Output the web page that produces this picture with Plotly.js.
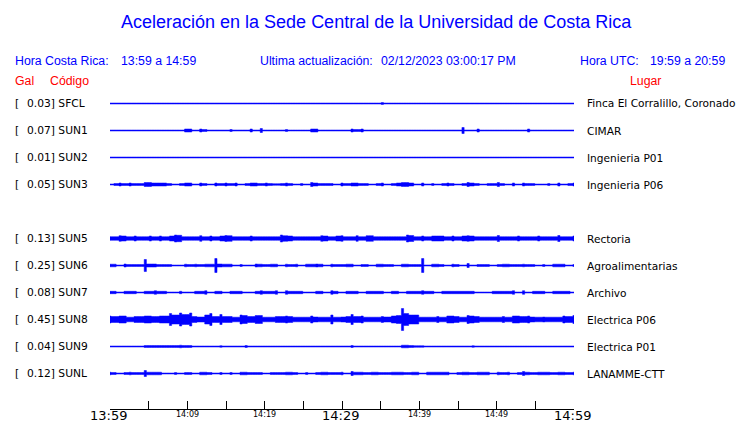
<!DOCTYPE html>
<html><head><meta charset="utf-8">
<script src="https://cdn.plot.ly/plotly-3.0.1.min.js"></script>
<style>html,body{margin:0;padding:0;background:#fff}#chart{width:740px;height:423px}</style>
</head><body><div id="chart"></div>
<script>
// ---------- data ----------
const chartTitle = 'Aceleración en la Sede Central de la Universidad de Costa Rica';
const stationCodes = ['SFCL','SUN1','SUN2','SUN3','SUN5','SUN6','SUN7','SUN8','SUN9','SUNL'];
const peakGal = ['0.03','0.07','0.01','0.05','0.13','0.25','0.08','0.45','0.04','0.12'];
const stationPlaces = ['Finca El Corralillo, Coronado','CIMAR','Ingenieria P01','Ingenieria P06','Rectoria','Agroalimentarias','Archivo','Electrica P06','Electrica P01','LANAMME-CTT'];
const rowSlots = [0,1,2,3,5,6,7,8,9,10];
const tickMinutes = [0,5,10,15,20,25,30,35,40,45,50,55,60];
const labelMinutes = [0,10,20,30,40,50,60];
const tickLabels = ['13:59','14:09','14:19','14:29','14:39','14:49','14:59'];

// envelope amplitude (relative units) of each record, 93 samples over the hour
const ampSFCL = [0,0,0,0,0,0,0,0,0,0, 0,0,0,0,0,0,0,0,0,0, 0,0,0,0,0,0,0,0,0,0, 0,0,0,0,0,0,0,0,0,0, 0,0,0,0,0,0,0,0,0,0, 0,0,0,0,1,0,0,0,0,0, 0,0,0,0,0,0,0,0,0,0, 0,0,0,0,0,0,0,0,0,0, 0,0,0,0,0,0,0,0,0,0, 0,0,0];
const ampSUN1 = [0,0,0,0,0,0,0,0,0,0, 0,0,0,0,0,1.5,1.5,0,1.5,1, 0,0,0,0,1,0,0,0,1.5,0, 2,0,0,0,0,1,0,0,0,0, 1.5,1.5,0,0,0,0,0,0,1.5,1, 1.5,0,0,0,0,0,0,0,0,0, 0,0,0,0,0,0,0,0,0,0, 3,0,0,1.5,0,0,0,0,0,0, 0,0,0,1.5,0,0,0,0,0,0, 0,0,0];
const ampSUN2 = [0,0,0,0,0,0,0,0,0,0, 0,0,0,0,0,0,0,0,0,0, 0,0,0,0,0,0,0,0,0,0, 0,0,0,0,0,0,0,0,0,0, 0,0,0,0,0,0,0,0,0,0, 0,0,0,0,0,0,0,0,0,0, 0,0,0,0,0,0,0,0,0,0, 0,0,0,0,0,0,0,0,0,0, 0,0,0,0,0,0,0,0,0,0, 0,0,0];
const ampSUN3 = [0,1,1.5,1,1.5,1,1,2,2,1.5, 1.5,1.5,1,0,1,1.5,1.5,0,1.5,1, 0,1.5,1,1.5,1,1.5,0,1,1.5,1.5, 1,1.5,1,0.8,1,1.5,1,0,1,0, 2,1.5,1,1,1,0.5,1.5,1,1.5,1.5, 1,1,0,1,1.5,0.5,1,1.5,2,2, 1.5,0,1.5,0,1,0,1,1.5,1,0.5, 1,2,1.5,1,0,1,1,2,1,0, 1.5,0,1.5,1,1,0.5,0,1,0,1.5, 0,1,1.5];
const ampSUN5 = [1.8,1.8,2.8,2.5,1.8,2.5,1.8,1.8,2.5,1.8, 2.5,1.8,2.5,3.5,3.2,1.8,1.8,1.8,2.8,1.8, 2.5,1.8,2.5,3,2.8,1.8,1.8,1.8,2.5,1.8, 1.8,1.8,1.8,1.8,3.5,2.8,2.5,1.8,1.8,1.8, 1.8,1.8,2.8,2.5,1.8,2.5,2.8,1.8,1.8,2.8, 1.8,2.8,2.8,1.8,1.8,1.8,1.8,1.8,1.8,3.5, 3,1.8,2.5,1.8,2.5,2.5,2.5,1.8,2.5,1.8, 2.5,2.8,2.5,1.8,1.8,1.8,1.8,3,1.8,1.8, 1.8,2.5,1.8,1.8,1.8,2.5,1.8,1.8,1.8,3, 1.8,1.8,2.5];
const ampSUN6 = [1.3,1.3,0.5,1.5,1,1,1,6,1.5,1.5, 1,1,1,0,0,1.3,1,1.3,1,1.3, 1.3,7,1.5,1.3,1.3,0,1,0,0,1.5, 1.3,1,1.3,1.3,0,1.3,1,1.3,0,1.3, 1.3,1.5,1.3,0,1.3,1,1,1.3,1.3,0, 1,1,0,1.3,1.3,1,1,0,1.3,1.3, 1,1,7,0,1.3,1.3,1,0,1.3,1, 0,2,0,1,1,1,0,1,1.3,1.3, 1,1,1.3,1,1,0,1,0,1.3,1.3, 1.3,0,1];
const ampSUN7 = [1.2,1.2,0.5,1.2,1.2,1.2,0.5,1.2,1.2,1.8, 1.2,1.2,0.5,0.5,1.2,0.5,0.5,1.2,1.2,1.8, 0.5,1.2,1.2,0.5,1.2,1.2,1.2,0.5,0.5,1.2, 1.8,1.2,1.2,1.8,0.5,1.8,1.2,1.2,1.2,0.5, 0.5,1.2,1.2,0.5,1.8,1.2,0.5,1.2,1.2,1.2, 0.5,1.2,1.2,1.2,1.2,0.5,1.2,1.2,0.5,1.2, 1.2,1.2,1.8,1.2,1.2,0.5,1.2,1.2,1.2,1.2, 1.2,1.2,1.2,0.5,0.5,0.5,1.2,1.2,1.2,1.2, 1.8,0.5,1.8,0.5,1.2,1.2,1.2,0.5,1.2,1.2, 1.2,1.2,0.5];
const ampSUN8 = [3.5,3,3.5,3.5,2.3,3,3,3.5,3.5,3, 3.5,3.5,6,4.5,6.5,5,6.5,3,2.5,4.5, 6,3,5,3,3,2.3,4.5,4,3,4, 4,2.3,2.3,3,3,3.5,3,2.3,2.3,2.3, 3.5,2.5,2.3,2.3,4.5,2.3,2.5,3,5,3, 3.5,2.3,2.3,2.3,3,2.5,3.5,4,11,6, 4.5,4.5,2.3,2.3,2.3,3,2.3,3.5,3.5,3, 2.3,4,3.5,3,2.3,2.3,2.3,2.3,3,2.3, 3.5,3.5,3,3.5,2.5,2.3,2.5,2.3,2.3,2.3, 3.5,3,4];
const ampSUN9 = [0,0,0,0,0,0,0,1,1,1, 1,1,1,1,1.3,1,1,0,0,0, 0,0,0.8,0,0,0,0,1,0,0, 0,0,0,0,0,0,0,0,0,0, 0,0,0,0,0,0,0,0,1,0, 0,0,0,0,0,0,0,0,1.3,1.3, 1,0.8,0.8,0,0,0,0,0,0,0, 0,0,0.8,0,0,0,0,0,0,0, 0,0,0,0,0,0,0,0,0,0, 0,0,0];
const ampSUNL = [1.3,1,0,1,1.3,1,1,3,1.3,1.3, 1.3,0,0,1,0,1,1,0,1.3,1.3, 1,0,1,0,1,0,1.3,1.3,1,1, 1,0,1,1,1,1.3,1.3,1,0,1, 0,1,1.3,1.3,1,1,1.3,0,2,1.3, 1.3,1,1.3,1.3,1,1,1.3,1.3,1.3,1, 1.3,1.3,0,1.3,1.3,1.3,1.3,1.3,0,1, 1.3,1.3,1,1.3,1.3,1.3,0,1.3,1,1.3, 0,1,2,1.3,1,1.3,1.3,1.3,1,1.3, 1.3,1,1.3];
const amplitudes = [ampSFCL,ampSUN1,ampSUN2,ampSUN3,ampSUN5,ampSUN6,ampSUN7,ampSUN8,ampSUN9,ampSUNL];

// ---------- drawing ----------
const W = 740, H = 423;
const BLUE = '#0000ff', RED = '#ff0000';
const px = x => x / W, py = y => 1 - y / H;
const rowY = s => 103.5 + 27 * s;   // y axis is set up in pixel-like units
const base = 0.5;

const traces = [];
amplitudes.forEach((amp, i) => {
  const c = rowY(rowSlots[i]);
  const n = amp.length, dt = 60 / (n - 1), h = dt * 0.22;
  const ux = [], uy = [];
  for (let k = 0; k < n; k++) {
    const t = k * dt, a = Math.max(base, amp[k]);
    ux.push(Math.max(0, t - h), Math.min(60, t + h)); uy.push(a, a);
    if (k < n - 1) {
      const m = Math.max(base, Math.min(amp[k], amp[k + 1]));
      ux.push(t + h, (k + 1) * dt - h); uy.push(m, m);
    }
  }
  const xs = ux.concat(ux.slice().reverse());
  const ys = uy.map(v => c - v).concat(uy.slice().reverse().map(v => c + v));
  xs.push(xs[0]); ys.push(ys[0]);
  traces.push({x: xs, y: ys, type: 'scatter', mode: 'lines', fill: 'toself',
    fillcolor: BLUE, line: {color: BLUE, width: 0.5, simplify: false}, hoverinfo: 'skip', showlegend: false});
});

const ann = [];
const txt = (text, x, y, size, color, family, xanchor) => ann.push({
  text, x: px(x), y: py(y), xref: 'paper', yref: 'paper', showarrow: false, borderpad: 0,
  xanchor: xanchor || 'left', yanchor: 'middle', font: {size, color, family}});
const ARIAL = 'Liberation Sans, Arial, sans-serif';
const DEJA = 'DejaVu Sans, sans-serif';
txt(chartTitle, 376, 22, 18, BLUE, ARIAL, 'center');
txt('Hora Costa Rica:', 14, 61.5, 12.3, BLUE, ARIAL);
txt('13:59 a 14:59', 120, 61.5, 12.3, BLUE, ARIAL);
txt('Ultima actualización:', 259, 61.5, 12.3, BLUE, ARIAL);
txt('02/12/2023 03:00:17 PM', 380, 61.5, 12.3, BLUE, ARIAL);
txt('Hora UTC:', 579, 61.5, 12.3, BLUE, ARIAL);
txt('19:59 a 20:59', 649, 61.5, 12.3, BLUE, ARIAL);
txt('Gal', 14, 81, 12.3, RED, ARIAL);
txt('Código', 49, 81, 12.3, RED, ARIAL);
txt('Lugar', 629, 81, 12.3, RED, ARIAL);
stationCodes.forEach((code, i) => {
  const y = rowY(rowSlots[i]);
  txt('[', 13.5, y, 10.7, '#000', DEJA);
  txt(peakGal[i] + '] ' + code, 26, y, 10.7, '#000', DEJA);
  txt(stationPlaces[i], 586, y, 10.6, '#000', DEJA);
});
labelMinutes.forEach((m, i) => {
  const major = m % 30 === 0;
  ann.push({text: tickLabels[i], x: m, xref: 'x', y: py(major ? 415.5 : 414), yref: 'paper',
    showarrow: false, borderpad: 0, xanchor: 'center', yanchor: 'middle', xshift: major ? -1.5 : 0,
    font: {size: major ? 13 : 8, color: '#000', family: DEJA}});
});

const layout = {
  width: W, height: H, margin: {l: 0, r: 0, t: 0, b: 0},
  paper_bgcolor: '#fff', plot_bgcolor: '#fff', hovermode: false, showlegend: false,
  xaxis: {domain: [110 / W, 574 / W], range: [0, 60], tickvals: tickMinutes, showticklabels: false,
    ticks: 'inside', ticklen: 8, tickwidth: 1, tickcolor: '#000', showline: true,
    linecolor: '#000', linewidth: 1, showgrid: false, zeroline: false, fixedrange: true},
  yaxis: {domain: [(H - 409) / H, 1], range: [409, 0], visible: false, fixedrange: true},
  annotations: ann
};
Plotly.newPlot('chart', traces, layout, {staticPlot: true, displayModeBar: false});
</script></body></html>
